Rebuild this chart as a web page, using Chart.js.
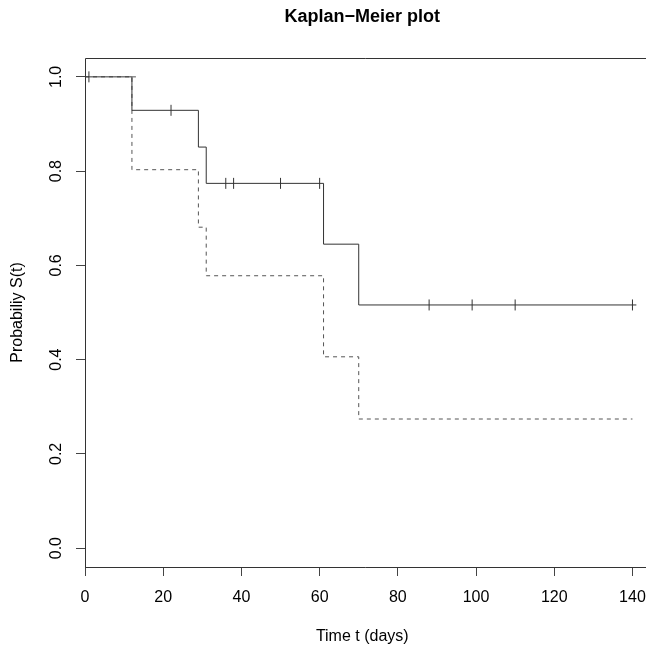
<!DOCTYPE html>
<html>
<head>
<meta charset="utf-8">
<script src="https://cdn.jsdelivr.net/npm/chart.js@4.4.1/dist/chart.umd.min.js"></script>
<style>
  body { margin: 0; background: #fff; }
  canvas { display: block; }
</style>
</head>
<body>
<canvas id="kmplot" width="646" height="646"></canvas>
<script>
// survival curve, group 1 (solid)
var survTime = [0, 12, 29, 31, 61, 70, 141];
var survProb = [1.0, 0.929, 0.851, 0.774, 0.645, 0.516, 0.516];
// survival curve, group 2 (dashed)
var dashTime = [0, 12, 29, 31, 61, 70, 140];
var dashProb = [1.0, 0.803, 0.681, 0.578, 0.406, 0.274, 0.274];
// little dashed piece left over at 1.0 just after the first drop
var stubTime = [12, 13.4];
var stubProb = [1.0, 1.0];
// censored observations (tick marks on the solid curve)
var censorTime = [1, 22, 36, 38, 50, 60, 88, 99, 110, 140];
var censorProb = [1.0, 0.929, 0.774, 0.774, 0.774, 0.774, 0.516, 0.516, 0.516, 0.516];
// axis ticks
var xTicks = [0, 20, 40, 60, 80, 100, 120, 140];
var yTicks = [0, 0.2, 0.4, 0.6, 0.8, 1.0];

function toPoints(xs, ys) {
    return xs.map(function (x, i) { return { x: x, y: ys[i] }; });
}

var frame = {
    id: 'frame',
    afterDraw: function (chart) {
        var a = chart.chartArea;
        var c = chart.ctx;
        c.save();
        c.strokeStyle = '#333';
        c.lineWidth = 1;
        c.beginPath();
        c.moveTo(646, Math.round(a.top) + 0.5);
        c.lineTo(Math.round(a.left) + 0.5, Math.round(a.top) + 0.5);
        c.lineTo(Math.round(a.left) + 0.5, Math.round(a.bottom) + 0.5);
        c.lineTo(646, Math.round(a.bottom) + 0.5);
        c.stroke();
        c.restore();
    }
};

var font = 'Liberation Sans, Arial, sans-serif';

var ctx = document.getElementById('kmplot').getContext('2d');
var myChart = new Chart(ctx, {
    type: 'line',
    data: {
        datasets: [{
            label: 'censored',
            data: toPoints(censorTime, censorProb),
            showLine: false,
            pointStyle: 'line',
            rotation: 90,
            pointRadius: 5.5,
            pointBorderColor: '#333',
            pointBorderWidth: 1,
            order: 0
        }, {
            label: 'group 1',
            data: toPoints(survTime, survProb),
            stepped: true,
            borderColor: '#333',
            borderWidth: 1,
            pointRadius: 0,
            order: 1
        }, {
            label: 'group 2',
            data: toPoints(dashTime, dashProb),
            stepped: true,
            borderColor: '#555',
            borderWidth: 1,
            borderDash: [4, 4],
            pointRadius: 0,
            order: 2
        }, {
            label: 'group 2 stub',
            data: toPoints(stubTime, stubProb),
            borderColor: '#555',
            borderWidth: 1,
            borderDash: [4, 4],
            pointRadius: 0,
            order: 3
        }]
    },
    options: {
        responsive: false,
        animation: false,
        layout: { padding: 0 },
        plugins: {
            legend: { display: false },
            tooltip: { enabled: false },
            title: {
                display: true,
                text: 'Kaplan\u2212Meier plot',
                fullSize: false,
                color: '#000',
                font: { family: font, size: 18, weight: 'bold', lineHeight: 1.2 },
                padding: { top: 6, bottom: 30.4 }
            }
        },
        scales: {
            x: {
                type: 'linear',
                min: 0,
                max: 141.8,
                afterFit: function (s) {
                    s.height = 79;
                    s.paddingLeft = 0;
                    s.paddingRight = 0;
                },
                afterBuildTicks: function (s) {
                    s.ticks = xTicks.map(function (v) { return { value: v }; });
                },
                border: { display: false },
                grid: { drawOnChartArea: false, drawTicks: true, tickLength: 9, color: '#444', lineWidth: 1 },
                ticks: {
                    padding: 12,
                    color: '#000',
                    maxRotation: 0,
                    font: { family: font, size: 16 },
                    callback: function (v) { return String(v); }
                },
                title: {
                    display: true,
                    text: 'Time t (days)',
                    color: '#000',
                    font: { family: font, size: 16, lineHeight: 1.2 },
                    padding: { top: 0, bottom: 0 }
                }
            },
            y: {
                type: 'linear',
                min: -0.04,
                max: 1.04,
                afterFit: function (s) {
                    s.width = 85;
                    s.paddingTop = 0;
                    s.paddingBottom = 0;
                },
                afterBuildTicks: function (s) {
                    s.ticks = yTicks.map(function (v) { return { value: v }; });
                },
                border: { display: false },
                grid: { drawOnChartArea: false, drawTicks: true, tickLength: 9, color: '#444', lineWidth: 1 },
                ticks: {
                    padding: 8,
                    color: '#000',
                    minRotation: 90,
                    maxRotation: 90,
                    crossAlign: 'center',
                    font: { family: font, size: 16 },
                    callback: function (v) { return v.toFixed(1); }
                },
                title: {
                    display: true,
                    text: 'Probabiliy S(t)',
                    color: '#000',
                    font: { family: font, size: 16, lineHeight: 1.2 },
                    padding: { top: 8, bottom: 0 }
                }
            }
        }
    },
    plugins: [frame]
});
</script>
</body>
</html>
